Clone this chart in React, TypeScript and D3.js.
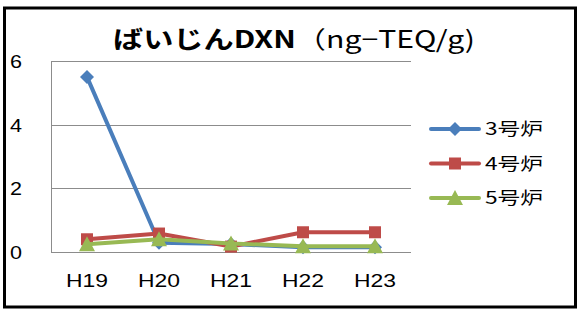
import React from "react";
import * as d3 from "d3";

const categories = ["H19", "H20", "H21", "H22", "H23"];
const seriesNames = ["3号炉", "4号炉", "5号炉"];
const furnace3 = [5.5, 0.29, 0.25, 0.15, 0.15];
const furnace4 = [0.4, 0.58, 0.17, 0.62, 0.62];
const furnace5 = [0.24, 0.4, 0.27, 0.18, 0.18];
const yTicks = [0, 2, 4, 6];
const colors = ["#4a7ebb", "#be4b48", "#98b954"];
const markers = ["diamond", "square", "triangle"];

const W = 579, H = 309;
const plot = { left: 51, right: 411, top: 61, bottom: 252 };

function Marker({ type, x, y, color }: { type: string; x: number; y: number; color: string }) {
  if (type === "diamond") {
    const r = 7;
    return <path d={`M${x},${y - r}L${x + r},${y}L${x},${y + r}L${x - r},${y}Z`} fill={color} />;
  }
  if (type === "square") {
    const s = 12;
    return <rect x={x - s / 2} y={y - s / 2} width={s} height={s} fill={color} />;
  }
  const s = 14;
  return <path d={`M${x},${y - s / 2 - 1}L${x + s / 2 + 1},${y + s / 2}L${x - s / 2 - 1},${y + s / 2}Z`} fill={color} />;
}

export default function App() {
  const x = d3.scaleBand().domain(categories).range([plot.left, plot.right]);
  const y = d3.scaleLinear().domain([0, 6]).range([plot.bottom, plot.top]);
  const series = [furnace3, furnace4, furnace5];
  const line = d3
    .line<number>()
    .x((_, i) => (x(categories[i]) as number) + x.bandwidth() / 2)
    .y((d) => y(d));
  const latin = "'Liberation Sans', 'Noto Sans CJK JP', sans-serif";
  const cjk = "'Noto Sans CJK JP', sans-serif";

  return (
    <svg width={W} height={H} style={{ position: "absolute", left: 0, top: 0 }}>
      <rect x={0} y={0} width={W} height={H} fill="#fff" />
      <rect x={4.5} y={8} width={571} height={299} fill="none" stroke="#000" strokeWidth={3} />
      {yTicks.map((t) => (
        <g key={t}>
          {t > 0 && (
            <line x1={plot.left} x2={plot.right} y1={Math.round(y(t)) + 0.5} y2={Math.round(y(t)) + 0.5} stroke="#8c8c8c" strokeWidth={1} />
          )}
          <text x={10} y={y(t)} dy="0.36em" fontSize={19} fontFamily={latin} fill="#000" textLength={12} lengthAdjust="spacingAndGlyphs">
            {t}
          </text>
        </g>
      ))}
      <line x1={plot.left + 0.5} x2={plot.left + 0.5} y1={plot.top} y2={plot.bottom} stroke="#8c8c8c" />
      <line x1={plot.left} x2={plot.right} y1={plot.bottom + 0.5} y2={plot.bottom + 0.5} stroke="#8c8c8c" />
      {categories.map((c) => (
        <text key={c} x={(x(c) as number) + x.bandwidth() / 2 - 21} y={287} fontSize={18} fontFamily={latin} fill="#000" textLength={42} lengthAdjust="spacingAndGlyphs">
          {c}
        </text>
      ))}
      {series.map((s, i) => (
        <g key={i}>
          <path d={line(s) || ""} fill="none" stroke={colors[i]} strokeWidth={4} strokeLinejoin="round" strokeLinecap="round" />
          {s.map((v, j) => (
            <Marker key={j} type={markers[i]} x={(x(categories[j]) as number) + x.bandwidth() / 2} y={y(v)} color={colors[i]} />
          ))}
        </g>
      ))}
      {seriesNames.map((n, i) => {
        const ly = 129 + i * 34.5;
        return (
          <g key={n}>
            <line x1={431} x2={479} y1={ly} y2={ly} stroke={colors[i]} strokeWidth={4} strokeLinecap="round" />
            <Marker type={markers[i]} x={455} y={ly} color={colors[i]} />
            <text x={485} y={ly + 6} fontSize={17} fontFamily={cjk} fill="#000" textLength={58} lengthAdjust="spacingAndGlyphs">
              {n}
            </text>
          </g>
        );
      })}
      <text x={113} y={48} fontSize={24} fontFamily={cjk} fill="#000" textLength={362} lengthAdjust="spacingAndGlyphs">
        <tspan fontWeight="bold">ばいじんDXN</tspan>
        <tspan fontWeight="normal">（ng−TEQ/g)</tspan>
      </text>
    </svg>
  );
}
